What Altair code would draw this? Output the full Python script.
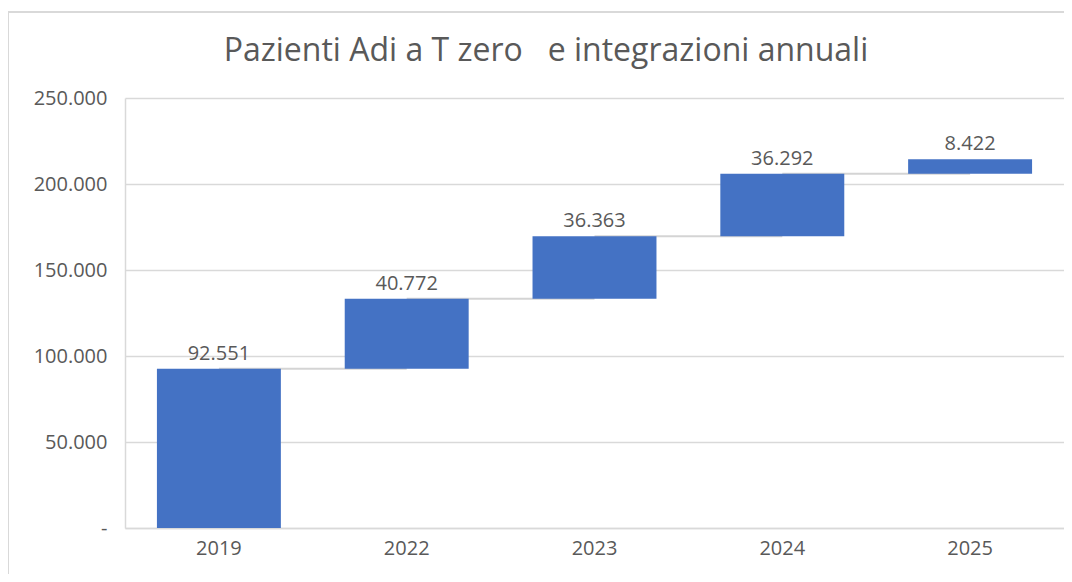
import altair as alt
import pandas as pd

years = ["2019", "2022", "2023", "2024", "2025"]
increments = [92551, 40772, 36363, 36292, 8422]
y_ticks = [0, 50000, 100000, 150000, 200000, 250000]
title_text = ["Pazienti Adi a T zero\u00a0\u00a0 e integrazioni annuali"]

ends = []
total = 0
for v in increments:
    total += v
    ends.append(total)
starts = [e - v for e, v in zip(ends, increments)]
labels = [f"{v:,}".replace(",", ".") for v in increments]

bars_df = pd.DataFrame({"year": years, "value": increments, "start": starts,
                        "end": ends, "label": labels})
conn_df = pd.DataFrame({"year": years[:-1], "next": years[1:], "level": ends[:-1]})
title_df = pd.DataFrame({"t": title_text})

FONT = "Open Sans"
TXT = "#595959"
GRID = "#d9d9d9"

xscale = alt.Scale(domain=years, paddingInner=0.34, paddingOuter=0.17)
yscale = alt.Scale(domain=[0, 250000], nice=False)

xaxis = alt.Axis(title=None, labelAngle=0, ticks=False, domain=True, domainColor=GRID,
                 domainWidth=1.5, labelFont=FONT, labelFontSize=20, labelColor=TXT,
                 labelPadding=10, grid=False)
yaxis = alt.Axis(title=None, values=y_ticks, ticks=False, domain=True, domainColor=GRID,
                 domainWidth=1.5, labelFont=FONT, labelFontSize=20, labelColor=TXT,
                 labelPadding=18, grid=True, gridColor=GRID, gridWidth=1.5,
                 labelExpr="datum.value == 0 ? '-' : replace(format(datum.value, ','), ',', '.')")

base = alt.Chart(bars_df)

connectors = alt.Chart(conn_df).mark_rule(color="#d4d4d4", strokeWidth=2).encode(
    x=alt.X("year:N", scale=xscale, axis=xaxis, sort=years),
    x2="next:N",
    y=alt.Y("level:Q", scale=yscale, axis=yaxis),
)

bars = base.mark_bar(color="#4472C4").encode(
    x=alt.X("year:N", scale=xscale, axis=xaxis, sort=years),
    y=alt.Y("start:Q", scale=yscale, axis=yaxis),
    y2="end:Q",
)

text = base.mark_text(baseline="bottom", dy=-5, font=FONT, fontSize=20, color=TXT).encode(
    x=alt.X("year:N", scale=xscale, sort=years),
    y=alt.Y("end:Q", scale=yscale),
    text="label:N",
)

title = alt.Chart(title_df).mark_text(font=FONT, fontSize=32, color=TXT, align="center",
                                      baseline="middle").encode(
    x=alt.value(421), y=alt.value(-47), text="t:N")

border_left = alt.Chart(bars_df).mark_rule(color=GRID, strokeWidth=1.5).encode(
    x=alt.value(-117), y=alt.value(-86), y2=alt.value(480))
border_top = alt.Chart(bars_df).mark_rule(color=GRID, strokeWidth=1.5).encode(
    x=alt.value(-117), x2=alt.value(960), y=alt.value(-86))

chart = alt.layer(border_left, border_top, title, connectors, bars, text).properties(
    width=939,
    height=430,
    autosize=alt.AutoSizeParams(type="none"),
    padding={"left": 117, "top": 90, "right": 0, "bottom": 46},
).configure_view(stroke=None)

chart.save("out.html", embed_options={"renderer": "svg", "actions": False})
